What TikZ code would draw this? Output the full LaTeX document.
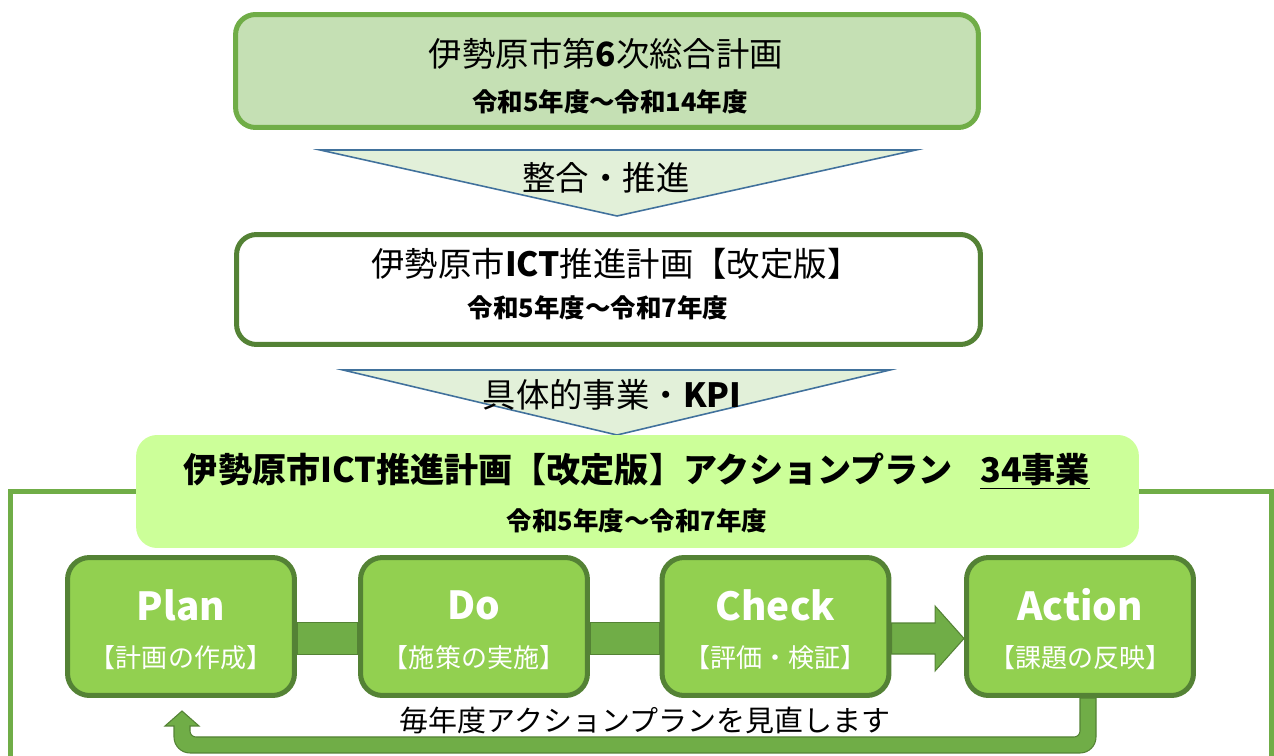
\documentclass[tikz,border=0pt]{standalone}
\usepackage{fontspec}
\setmainfont{Noto Sans CJK JP}
\usepackage{tikz}
\usetikzlibrary{shapes,arrows.meta,positioning,calc}

\definecolor{leaf}{HTML}{70AD47}
\definecolor{moss}{HTML}{548235}
\definecolor{sage}{HTML}{C5E0B4}
\definecolor{mint}{HTML}{E2F0D9}
\definecolor{steel}{HTML}{41719C}
\definecolor{lime}{HTML}{CCFF99}
\definecolor{grass}{HTML}{92D050}

\tikzset{
	planbox/.style={rounded corners=0.4cm,line width=2.85pt,minimum height=2.26cm},
	pdcabox/.style={draw=moss,fill=grass,rounded corners=0.44cm,line width=2.85pt,
		minimum width=4.54cm,minimum height=2.76cm},
	funnel/.style={draw=steel,fill=mint,line width=0.9pt},
	bigtxt/.style={font=\fontsize{19pt}{23pt}\selectfont},
	subtxt/.style={font=\bfseries\fontsize{14.5pt}{17pt}\selectfont},
	pdcahead/.style={text=white,font=\bfseries\fontsize{22pt}{26pt}\selectfont},
	pdcasub/.style={text=white,font=\fontsize{14.8pt}{17pt}\selectfont},
	blockarrow/.style={draw=moss,fill=leaf,line width=0.6pt},
}

\begin{document}
\begin{tikzpicture}[x=0.02cm,y=-0.02cm]
	\useasboundingbox (0,0) rectangle (1274,756);
	\clip (0,0) rectangle (1274,756);
	%% the general plan
	\node[planbox,draw=leaf,fill=sage,minimum width=14.86cm] (sogo) at (607,71) {};
	\node[bigtxt] (sogo-t) at (606,54) {伊勢原市第\textbf{6}次総合計画};
	\node[subtxt] (sogo-s) at (610,102) {令和5年度～令和14年度};
	% first funnel
	\draw[funnel] (320,150) -- (916,150) -- (617,216) -- cycle;
	\node[bigtxt] (merge) at (606,178) {整合・推進};
	%% the ICT plan
	\node[planbox,draw=moss,fill=white,minimum width=14.88cm,minimum height=2.2cm] (ict) at (608.5,289.5) {};
	\node[bigtxt] (ict-t) at (616,264) {伊勢原市\textbf{ICT}推進計画【改定版】};
	\node[subtxt] (ict-s) at (598,308) {令和5年度～令和7年度};
	% second funnel
	\draw[funnel] (343,370) -- (890,370) -- (617,435) -- cycle;
	\node[bigtxt] (kpi) at (612,395) {具体的事業・\textbf{KPI}};
	%% the frame round the cycle
	\draw[leaf,line width=2.85pt] (10.5,800) -- (10.5,491.5) -- (1271,491.5) -- (1271,800);
	%% the action plan
	\node[planbox,fill=lime,minimum width=20.06cm,rounded corners=0.42cm] (act) at (637.5,491.5) {};
	\node[bigtxt,font=\bfseries\fontsize{19.4pt}{23pt}\selectfont] (act-t) at (637,471)
		{伊勢原市ICT推進計画【改定版】アクションプラン\hspace{0.8em}\underline{34事業}};
	\node[subtxt] (act-s) at (637,521) {令和5年度～令和7年度};
	%% the cycle
	\node[pdcabox] (plan) at (181,626.5) {};
	\node[pdcabox] (do) at (474,626.5) {};
	\node[pdcabox] (check) at (775.5,626.5) {};
	\node[pdcabox] (action) at (1080,626.5) {};
	\node[pdcahead] (plan-h) at (181,605) {Plan};
	\node[pdcasub] (plan-s) at (181,658) {【計画の作成】};
	\node[pdcahead] (do-h) at (474,605) {Do};
	\node[pdcasub] (do-s) at (474,658) {【施策の実施】};
	\node[pdcahead] (check-h) at (775.5,605) {Check};
	\node[pdcasub] (check-s) at (775.5,658) {【評価・検証】};
	\node[pdcahead] (action-h) at (1080,605) {Action};
	\node[pdcasub] (action-s) at (1080,658) {【課題の反映】};
	% the block arrows
	\draw[blockarrow] ($(plan.east)+(0,-4)$) rectangle ($(do.west)+(0,28)$);
	\draw[blockarrow] ($(do.east)+(0,-4)$) rectangle ($(check.west)+(0,28)$);
	\draw[blockarrow] ($(check.east)+(0,-3.5)$) -- ($(action.west)+(-29,-3.5)$)
		-- ($(action.west)+(-29,-20.5)$) -- ($(action.west)+(0,12)$)
		-- ($(action.west)+(-29,44.5)$) -- ($(action.west)+(-29,27.5)$)
		-- ($(check.east)+(0,27.5)$) -- cycle;
	% back to the plan
	\coordinate (r) at ($(action.south)+(8,0)$);
	\coordinate (l) at ($(plan.south)+(1,13)$);
	\draw[blockarrow] ($(r)+(8,0)$) [rounded corners=0.32cm] |- ($(l)+(-8,42)$)
		[sharp corners] -- ($(l)+(-8,15)$) -- ($(l)+(-17,15)$) -- (l)
		-- ($(l)+(17,15)$) -- ($(l)+(8,15)$) [rounded corners=0.12cm] |- ($(r)+(-8,39)$)
		[sharp corners] -- ($(r)+(-8,0)$) -- cycle;
	\node[font=\fontsize{16.5pt}{20pt}\selectfont] (review) at (645,720) {毎年度アクションプランを見直します};
\end{tikzpicture}
\end{document}
